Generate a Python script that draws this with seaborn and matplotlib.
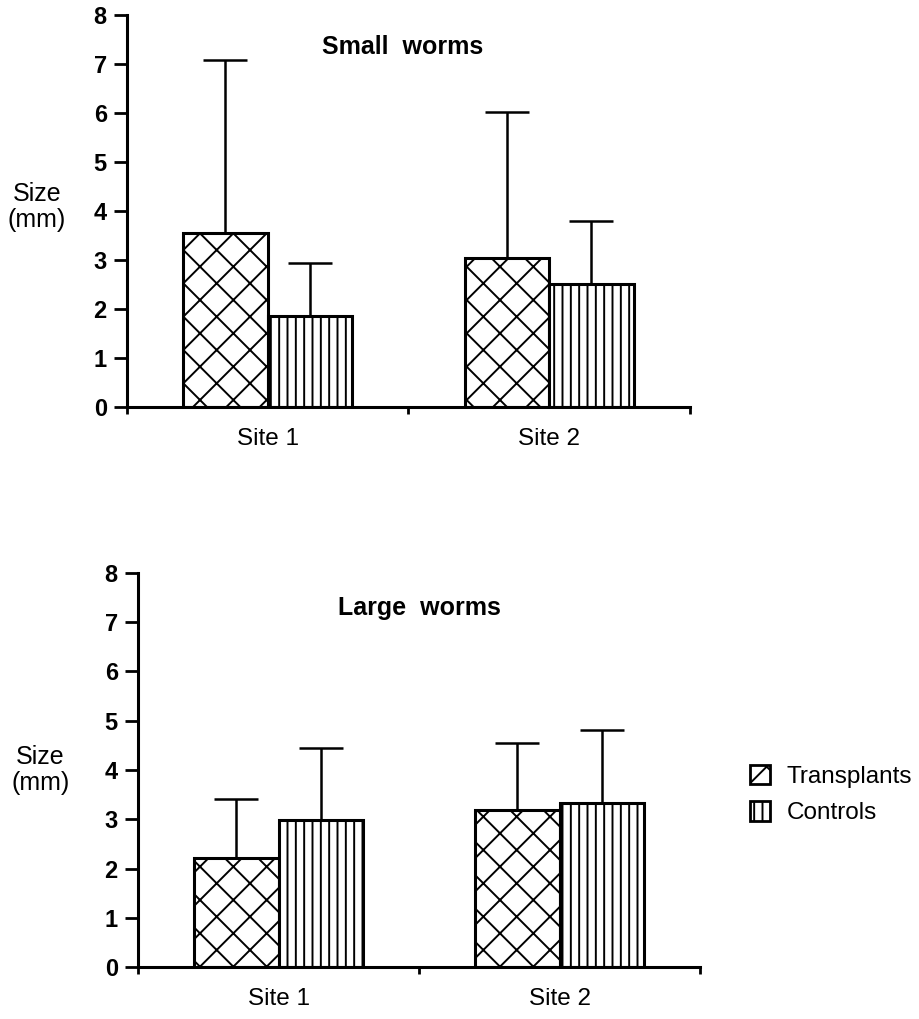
import matplotlib
matplotlib.use("Agg")
import matplotlib.pyplot as plt
from matplotlib.patches import Patch
import seaborn as sns
import pandas as pd

# ---- data ----
sites = ["Site 1", "Site 2"]
groups = ["Transplants", "Controls"]
small_transplants = [3.55, 3.05]
small_controls = [1.85, 2.52]
small_transplants_upper = [7.08, 6.01]
small_controls_upper = [2.93, 3.80]
large_transplants = [2.21, 3.19]
large_controls = [2.98, 3.33]
large_transplants_upper = [3.41, 4.55]
large_controls_upper = [4.45, 4.81]
yticks = [0, 1, 2, 3, 4, 5, 6, 7, 8]

sns.set_style("ticks")
plt.rcParams['font.family'] = ['Liberation Sans', 'DejaVu Sans']
plt.rcParams['hatch.linewidth'] = 1.4
plt.rcParams['text.color'] = 'black'
plt.rcParams['axes.labelcolor'] = 'black'
plt.rcParams['xtick.color'] = 'black'
plt.rcParams['ytick.color'] = 'black'
plt.rcParams['axes.edgecolor'] = 'black'

hatches = {"Transplants": "x", "Controls": "||"}


def make_df(t, c):
    return pd.DataFrame({
        "site": sites * 2,
        "group": [groups[0]] * 2 + [groups[1]] * 2,
        "size": list(t) + list(c),
    })


def draw(ax, t, c, tu, cu, title, title_xy, ylabel_xy):
    df = make_df(t, c)
    sns.barplot(data=df, x="site", y="size", hue="group", order=sites,
                hue_order=groups, width=0.6, errorbar=None, legend=False,
                ax=ax, palette=["white", "white"],
                edgecolor="black", linewidth=2.2, saturation=1)
    uppers = {"Transplants": tu, "Controls": cu}
    means = {"Transplants": t, "Controls": c}
    for g, cont in zip(groups, ax.containers):
        xs = []
        for p in cont.patches:
            p.set_hatch(hatches[g])
            p.set_facecolor("white")
            p.set_edgecolor("black")
            xs.append(p.get_x() + p.get_width() / 2)
        m = means[g]
        u = uppers[g]
        ax.errorbar(xs, m, yerr=[[0] * len(m), [ui - mi for ui, mi in zip(u, m)]],
                    fmt="none", ecolor="black", elinewidth=1.8, capsize=16,
                    capthick=1.8, zorder=1)
    ax.set_xlim(-0.5, 1.5)
    ax.set_ylim(0, 8)
    ax.set_yticks(yticks)
    ax.set_yticklabels([str(v) for v in yticks], fontsize=17, fontweight="bold")
    ax.set_xticks([0, 1])
    ax.set_xticklabels(sites, fontsize=17.5)
    ax.set_xticks([-0.5, 0.5, 1.5], minor=True)
    ax.tick_params(axis="x", which="major", length=0, pad=15)
    ax.tick_params(axis="x", which="minor", length=5, width=2, direction="out")
    ax.tick_params(axis="y", length=9.5, width=2, pad=5, direction="out")
    ax.set_xlabel("")
    ax.set_ylabel("Size\n(mm)", rotation=0, fontsize=18, ha="center", va="center",
                  linespacing=1.1)
    ax.yaxis.set_label_coords(*ylabel_xy)
    for s in ["top", "right"]:
        ax.spines[s].set_visible(False)
    for s in ["left", "bottom"]:
        ax.spines[s].set_linewidth(2.2)
    ax.text(title_xy[0], title_xy[1], title, transform=ax.transAxes,
            ha="center", va="center", fontsize=18, fontweight="bold")


fig = plt.figure(figsize=(9.2, 10.19), dpi=100)
ax1 = fig.add_axes([0.138, 0.6006, 0.612, 0.3847])
ax2 = fig.add_axes([0.150, 0.0510, 0.611, 0.3867])

draw(ax1, small_transplants, small_controls, small_transplants_upper,
     small_controls_upper, "Small  worms", (0.49, 0.918), (-0.16, 0.51))
draw(ax2, large_transplants, large_controls, large_transplants_upper,
     large_controls_upper, "Large  worms", (0.50, 0.91), (-0.174, 0.50))

handles = [Patch(facecolor="white", edgecolor="black", hatch=hatches[g],
                 linewidth=2.0, label=g) for g in groups]
fig.legend(handles=handles, loc="center left", bbox_to_anchor=(0.815, 0.2203),
           frameon=False, fontsize=17.5, handlelength=0.85, handleheight=0.85,
           handletextpad=0.65, labelspacing=0.55, borderpad=0, borderaxespad=0)

fig.savefig("out.png", dpi=100)
